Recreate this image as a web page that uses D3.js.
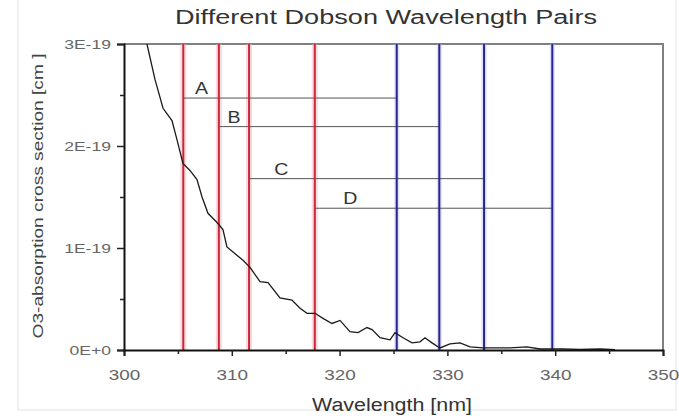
<!DOCTYPE html>
<html>
<head>
<meta charset="utf-8">
<script src="https://cdn.jsdelivr.net/npm/d3@7"></script>
<style>
  body { margin: 0; background: #fff; }
  text { font-family: "Liberation Sans", Arial, sans-serif; }
</style>
</head>
<body>
<div id="root"></div>
<script>
// absorption spectrum (nm, cm^2)
const wavelength = [302.13, 302.88, 303.62, 304.45, 304.92, 305.47, 306.12, 306.77, 307.24, 307.79,
  308.63, 309.18, 309.55, 310.11, 311.04, 311.69, 312.62, 313.36, 314.47, 315.58,
  316.33, 316.98, 317.72, 318.46, 319.29, 320.04, 320.96, 321.71, 322.54, 323.01,
  323.75, 324.68, 325.14, 325.88, 326.72, 327.46, 327.92, 328.57, 329.31, 330.24,
  331.17, 332.10, 333.30, 334.60, 335.81, 337.38, 338.59, 340.72, 342.30, 344.16, 345.55];
const crossSection = [3.00e-19, 2.65e-19, 2.37e-19, 2.25e-19, 2.06e-19, 1.83e-19, 1.76e-19, 1.67e-19, 1.50e-19, 1.34e-19,
  1.25e-19, 1.18e-19, 1.01e-19, 0.96e-19, 0.88e-19, 0.81e-19, 0.67e-19, 0.66e-19, 0.51e-19, 0.49e-19,
  0.41e-19, 0.36e-19, 0.36e-19, 0.31e-19, 0.26e-19, 0.29e-19, 0.18e-19, 0.17e-19, 0.22e-19, 0.20e-19,
  0.12e-19, 0.10e-19, 0.17e-19, 0.12e-19, 0.07e-19, 0.08e-19, 0.12e-19, 0.07e-19, 0.02e-19, 0.06e-19,
  0.07e-19, 0.03e-19, 0.02e-19, 0.02e-19, 0.02e-19, 0.03e-19, 0.01e-19, 0.01e-19, 0.005e-19, 0.01e-19, 0.004e-19];

// Dobson pairs
const pairNames = ['A', 'B', 'C', 'D'];
const shortWave = [305.5, 308.8, 311.6, 317.7];
const longWave = [325.3, 329.25, 333.4, 339.73];
const pairLevel = [2.47e-19, 2.19e-19, 1.68e-19, 1.39e-19];
const labelWave = [307.2, 310.2, 314.6, 321.0];

const xTicks = [300, 310, 320, 330, 340, 350];
const xMinor = [305, 315, 325, 335, 345];
const yTicks = [0, 1e-19, 2e-19, 3e-19];
const yTickLabels = ['0E+0', '1E-19', '2E-19', '3E-19'];
const yMinor = [0.5e-19, 1.5e-19, 2.5e-19];

const W = 679, H = 416;
const margin = { top: 44, right: 16, bottom: 66, left: 124 };
const width = W - margin.left - margin.right;
const height = H - margin.top - margin.bottom;

// the original text is drawn wider than Arial, so stretch it a bit
function stretch(sel, k) {
  sel.each(function() {
    const len = this.getComputedTextLength();
    d3.select(this).attr('textLength', len * k).attr('lengthAdjust', 'spacingAndGlyphs');
  });
}

const svg = d3.select('#root').append('svg')
  .attr('width', W)
  .attr('height', H);

// faint outer frame of the original figure
svg.append('rect')
  .attr('x', 18).attr('y', -2)
  .attr('width', 658).attr('height', 412)
  .attr('fill', 'none')
  .attr('stroke', '#e2e2e2');

const g = svg.append('g')
  .attr('transform', `translate(${margin.left}, ${margin.top})`);

const x = d3.scaleLinear().domain([300, 350]).range([0, width]);
const y = d3.scaleLinear().domain([0, 3e-19]).range([height, 0]);

g.append('defs').append('clipPath').attr('id', 'clip')
  .append('rect').attr('width', width).attr('height', height);

// top / right frame
g.append('path')
  .attr('d', `M0,0H${width}V${height}`)
  .attr('fill', 'none')
  .attr('stroke', '#808080')
  .attr('stroke-width', 2);

// red (short) and blue (long) wavelength lines
const redC = '#c8283a', blueC = '#26268f';
g.selectAll('.halo-r').data(shortWave).enter().append('line')
  .attr('x1', d => x(d)).attr('x2', d => x(d))
  .attr('y1', 0).attr('y2', height)
  .attr('stroke', '#f2b9bf').attr('stroke-width', 6).attr('opacity', 0.5);
g.selectAll('.halo-b').data(longWave).enter().append('line')
  .attr('x1', d => x(d)).attr('x2', d => x(d))
  .attr('y1', 0).attr('y2', height)
  .attr('stroke', '#c2c2ee').attr('stroke-width', 5).attr('opacity', 0.5);

// pair connectors
g.selectAll('.pair').data(pairNames).enter().append('line')
  .attr('x1', (d, i) => x(shortWave[i]))
  .attr('x2', (d, i) => x(longWave[i]))
  .attr('y1', (d, i) => y(pairLevel[i]))
  .attr('y2', (d, i) => y(pairLevel[i]))
  .attr('stroke', '#555')
  .attr('stroke-width', 1);

g.selectAll('.red').data(shortWave).enter().append('line')
  .attr('x1', d => x(d)).attr('x2', d => x(d))
  .attr('y1', 0).attr('y2', height)
  .attr('stroke', redC).attr('stroke-width', 2);
g.selectAll('.blue').data(longWave).enter().append('line')
  .attr('x1', d => x(d)).attr('x2', d => x(d))
  .attr('y1', 0).attr('y2', height)
  .attr('stroke', blueC).attr('stroke-width', 2);

g.selectAll('.pair-label').data(pairNames).enter().append('text')
  .attr('x', (d, i) => x(labelWave[i]))
  .attr('y', (d, i) => y(pairLevel[i]) - 4)
  .attr('text-anchor', 'middle')
  .attr('font-size', 17)
  .attr('fill', '#333')
  .text(d => d)
  .call(stretch, 1.15);

// spectrum
const line = d3.line()
  .x((d, i) => x(wavelength[i]))
  .y(d => y(d));
g.append('path')
  .datum(crossSection)
  .attr('clip-path', 'url(#clip)')
  .attr('d', line)
  .attr('fill', 'none')
  .attr('stroke', '#1a1a1a')
  .attr('stroke-width', 1.3);

// axes
g.append('g')
  .attr('class', 'x-axis')
  .attr('transform', `translate(0, ${height})`)
  .call(d3.axisBottom(x).tickValues(xTicks).tickSize(6).tickPadding(14).tickFormat(d3.format('d')));
g.append('g')
  .attr('transform', `translate(0, ${height})`)
  .call(d3.axisBottom(x).tickValues(xMinor).tickSize(4).tickFormat(''))
  .call(a => a.select('.domain').remove());
g.append('g')
  .attr('class', 'y-axis')
  .call(d3.axisLeft(y).tickValues(yTicks).tickSize(7).tickPadding(6)
    .tickFormat((d, i) => yTickLabels[i]));
g.append('g')
  .call(d3.axisLeft(y).tickValues(yMinor).tickSize(4).tickFormat(''))
  .call(a => a.select('.domain').remove());

g.selectAll('.domain').attr('stroke', '#111').attr('stroke-width', 2);
g.selectAll('.tick line').attr('stroke', '#222').attr('stroke-width', 1.5);
g.selectAll('.tick text')
  .attr('font-family', '"Liberation Sans", Arial, sans-serif')
  .attr('fill', '#666');
g.selectAll('.x-axis .tick text').attr('font-size', 14).call(stretch, 1.35);
g.selectAll('.y-axis .tick text').attr('font-size', 13).call(stretch, 1.35);

// titles
svg.append('text')
  .attr('x', 386).attr('y', 24)
  .attr('text-anchor', 'middle')
  .attr('font-size', 20)
  .attr('fill', '#333')
  .attr('textLength', 422)
  .attr('lengthAdjust', 'spacingAndGlyphs')
  .text('Different Dobson Wavelength Pairs');

svg.append('text')
  .attr('x', 392).attr('y', 411)
  .attr('text-anchor', 'middle')
  .attr('font-size', 18)
  .attr('fill', '#333')
  .attr('textLength', 160)
  .attr('lengthAdjust', 'spacingAndGlyphs')
  .text('Wavelength [nm]');

svg.append('text')
  .attr('transform', 'translate(43, 196) rotate(-90)')
  .attr('text-anchor', 'middle')
  .attr('font-size', 14)
  .attr('fill', '#444')
  .attr('textLength', 285)
  .attr('lengthAdjust', 'spacingAndGlyphs')
  .text('O3-absorption cross section [cm ]');
</script>
</body>
</html>
